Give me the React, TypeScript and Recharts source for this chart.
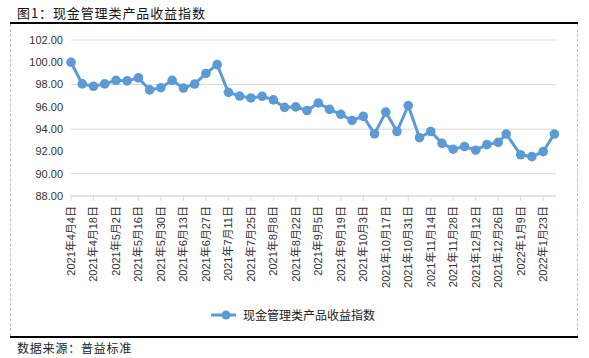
import { CartesianGrid, Line, LineChart, XAxis, YAxis } from "recharts";

const dates = [
  "2021-04-04", "2021-04-11", "2021-04-18", "2021-04-25", "2021-05-02", "2021-05-09", "2021-05-16",
  "2021-05-23", "2021-05-30", "2021-06-06", "2021-06-13", "2021-06-20", "2021-06-27", "2021-07-04",
  "2021-07-11", "2021-07-18", "2021-07-25", "2021-08-01", "2021-08-08", "2021-08-15", "2021-08-22",
  "2021-08-29", "2021-09-05", "2021-09-12", "2021-09-19", "2021-09-26", "2021-10-03", "2021-10-10",
  "2021-10-17", "2021-10-24", "2021-10-31", "2021-11-07", "2021-11-14", "2021-11-21", "2021-11-28",
  "2021-12-05", "2021-12-12", "2021-12-19", "2021-12-26", "2021-12-31", "2022-01-09", "2022-01-16",
  "2022-01-23", "2022-01-30",
];

const values = [
  100.0, 98.06, 97.85, 98.06, 98.38, 98.33, 98.6, 97.52, 97.72, 98.38, 97.69, 98.05, 99.0, 99.79,
  97.3, 96.97, 96.8, 96.95, 96.63, 95.95, 96.0, 95.67, 96.35, 95.77, 95.33, 94.78, 95.15, 93.58,
  95.53, 93.79, 96.12, 93.23, 93.79, 92.73, 92.2, 92.44, 92.11, 92.61, 92.81, 93.56, 91.7, 91.53,
  91.98, 93.56,
];

const tickDates = [
  "2021-04-04", "2021-04-18", "2021-05-02", "2021-05-16", "2021-05-30", "2021-06-13", "2021-06-27",
  "2021-07-11", "2021-07-25", "2021-08-08", "2021-08-22", "2021-09-05", "2021-09-19", "2021-10-03",
  "2021-10-17", "2021-10-31", "2021-11-14", "2021-11-28", "2021-12-12", "2021-12-26", "2022-01-09",
  "2022-01-23",
];

const yTicks = [88, 90, 92, 94, 96, 98, 100, 102];

const seriesName = "现金管理类产品收益指数";
const title = "图1：现金管理类产品收益指数";
const source = "数据来源：普益标准";

const DAY = 86400000;
const t0 = Date.parse(dates[0]);
const toDay = (d: string) => Math.round((Date.parse(d) - t0) / DAY);

const data = dates.map((d, i) => ({ day: toDay(d), value: values[i] }));
const xTicks = tickDates.map(toDay);

const BLUE = "#5b9bd5";
const CJK = '"Noto Sans CJK SC", sans-serif';
const NUM = '"Liberation Sans", "Noto Sans CJK SC", sans-serif';

function fmtDate(day: number) {
  const d = new Date(t0 + day * DAY);
  return `${d.getUTCFullYear()}年${d.getUTCMonth() + 1}月${d.getUTCDate()}日`;
}

function DateTick(props: any) {
  const { x, y, payload } = props;
  const ty = y + 3;
  return (
    <text
      x={x}
      y={ty}
      transform={`rotate(-90, ${x}, ${ty})`}
      textAnchor="end"
      dy="0.36em"
      fontSize={11}
      fontFamily={NUM}
      fill="#333"
    >
      {fmtDate(payload.value)}
    </text>
  );
}

export default function App() {
  return (
    <div style={{ position: "absolute", left: 0, top: 0, width: 589, height: 358, background: "#fff" }}>
      <div
        style={{
          position: "absolute",
          left: 17,
          top: 4,
          fontSize: 13,
          fontFamily: CJK,
          color: "#111",
          lineHeight: "18px",
          letterSpacing: 0.9,
        }}
      >
        {title}
      </div>
      <div style={{ position: "absolute", left: 10, top: 22, width: 568, height: 2, background: "#000" }} />
      <div
        style={{
          position: "absolute",
          left: 10,
          top: 24,
          width: 566,
          height: 312,
          borderLeft: "1px dashed #bfbfbf",
          borderRight: "1px dashed #bfbfbf",
        }}
      />
      <div style={{ position: "absolute", left: 10, top: 336, width: 568, height: 2, background: "#000" }} />
      <div
        style={{
          position: "absolute",
          left: 17,
          top: 339,
          fontSize: 12,
          fontFamily: CJK,
          color: "#222",
          lineHeight: "18px",
          letterSpacing: 0.8,
        }}
      >
        {source}
      </div>

      <div style={{ position: "absolute", left: 0, top: 0 }}>
        <LineChart width={589} height={358} data={data} margin={{ top: 40, right: 33, bottom: 82, left: 0 }}>
          <CartesianGrid vertical={false} stroke="#d9d9d9" />
          <XAxis
            dataKey="day"
            type="number"
            domain={[0, 302]}
            ticks={xTicks}
            interval={0}
            height={80}
            tickSize={5}
            tickMargin={2}
            stroke="#d9d9d9"
            tick={<DateTick />}
          />
          <YAxis
            type="number"
            domain={[88, 102]}
            ticks={yTicks}
            width={71}
            axisLine={false}
            tickLine={false}
            tickSize={0}
            tickMargin={8}
            tickFormatter={(v: number) => v.toFixed(2)}
            tick={{ fontSize: 11, fontFamily: NUM, fill: "#333" }}
          />
          <Line
            type="linear"
            dataKey="value"
            name={seriesName}
            stroke={BLUE}
            strokeWidth={3}
            dot={{ r: 4.8, fill: BLUE, stroke: "none" }}
            isAnimationActive={false}
          />
        </LineChart>
      </div>

      <div style={{ position: "absolute", left: 211, top: 306, display: "flex", alignItems: "center", height: 18 }}>
        <svg width={26} height={12}>
          <line x1={0} y1={6} x2={25} y2={6} stroke={BLUE} strokeWidth={3} />
          <circle cx={15} cy={6} r={4.5} fill={BLUE} />
        </svg>
        <span style={{ marginLeft: 6, fontSize: 12, fontFamily: CJK, color: "#222", lineHeight: "18px" }}>
          {seriesName}
        </span>
      </div>
    </div>
  );
}
